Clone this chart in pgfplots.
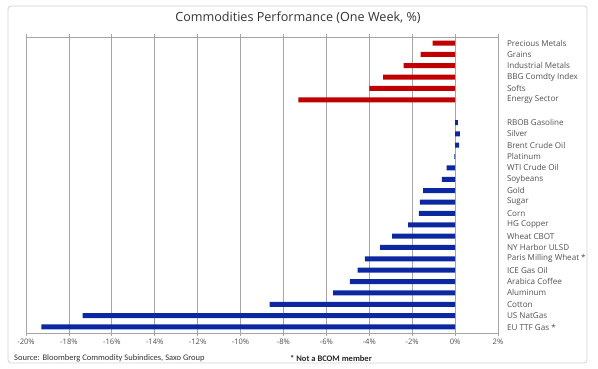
\documentclass[border=0pt]{standalone}
\usepackage{pgfplots}
\pgfplotsset{compat=1.18}
\usepackage{fontspec}
\setmainfont{Open Sans}
\newfontfamily\srcfont{Carlito}
\definecolor{barred}{RGB}{192,0,0}
\definecolor{barblue}{RGB}{12,40,160}
\definecolor{gridc}{RGB}{165,165,165}
\definecolor{txt}{RGB}{80,80,80}
\begin{document}
\begin{tikzpicture}[x=1pt,y=1pt]
\path[use as bounding box] (0,0) rectangle (598,369);
\draw[gray!35, rounded corners=3pt, line width=0.8pt] (8,6) rectangle (587,363);
\begin{axis}[
  at={(26pt,36pt)}, anchor=south west,
  scale only axis, width=472pt, height=296pt,
  xmin=-20, xmax=2, ymin=-0.53, ymax=25.53, y dir=reverse,
  axis line style={gridc, line width=0.7pt},
  xtick={-20,-18,...,2},
  xticklabels={-20\%,-18\%,-16\%,-14\%,-12\%,-10\%,-8\%,-6\%,-4\%,-2\%,0\%,2\%},
  xmajorgrids, grid style={gridc, line width=0.7pt},
  xtick pos=both, tick align=outside, major tick length=2.5pt,
  tick style={gridc, line width=0.7pt},
  xticklabel style={font=\fontsize{7.6}{8}\selectfont, text=txt},
  ytick={0,...,25},
  yticklabels={Precious Metals,Grains,Industrial Metals,BBG Comdty Index,Softs,Energy Sector,,RBOB Gasoline,Silver,Brent Crude Oil,Platinum,WTI Crude Oil,Soybeans,Gold,Sugar,Corn,HG Copper,Wheat CBOT,NY Harbor ULSD,Paris Milling Wheat *,ICE Gas Oil,Arabica Coffee,Aluminum,Cotton,US NatGas,EU TTF Gas *},
  yticklabel pos=right,
  ytick style={draw=none},
  yticklabel style={font=\fontsize{8.1}{9}\selectfont, text=txt, anchor=west, xshift=3pt},
  xbar, bar width=5pt,
]
\addplot[fill=barred, draw=none, bar shift=0pt] coordinates {
(-1.05,0) (-1.61,1) (-2.40,2) (-3.36,3) (-4.00,4) (-7.30,5)};
\addplot[fill=barblue, draw=none, bar shift=0pt] coordinates {
(0.13,7) (0.22,8) (0.19,9) (-0.03,10) (-0.39,11) (-0.62,12) (-1.49,13) (-1.64,14) (-1.69,15) (-2.19,16) (-2.94,17) (-3.49,18) (-4.20,19) (-4.54,20) (-4.90,21) (-5.69,22) (-8.65,23) (-17.36,24) (-19.28,25)};
\end{axis}
\node[text=black!80, font=\fontsize{12.6}{14}\selectfont] at (298,351) {Commodities Performance (One Week, \%)};
\node[anchor=west, inner sep=0pt, text=black!80, font=\srcfont\fontsize{8.5}{10}\selectfont] at (14,11) {Source: Bloomberg Commodity Subindices, Saxo Group};
\node[inner sep=0pt, text=black!85, font=\srcfont\bfseries\fontsize{8.5}{10}\selectfont] at (331,11) {* Not a BCOM member};
\end{tikzpicture}
\end{document}
